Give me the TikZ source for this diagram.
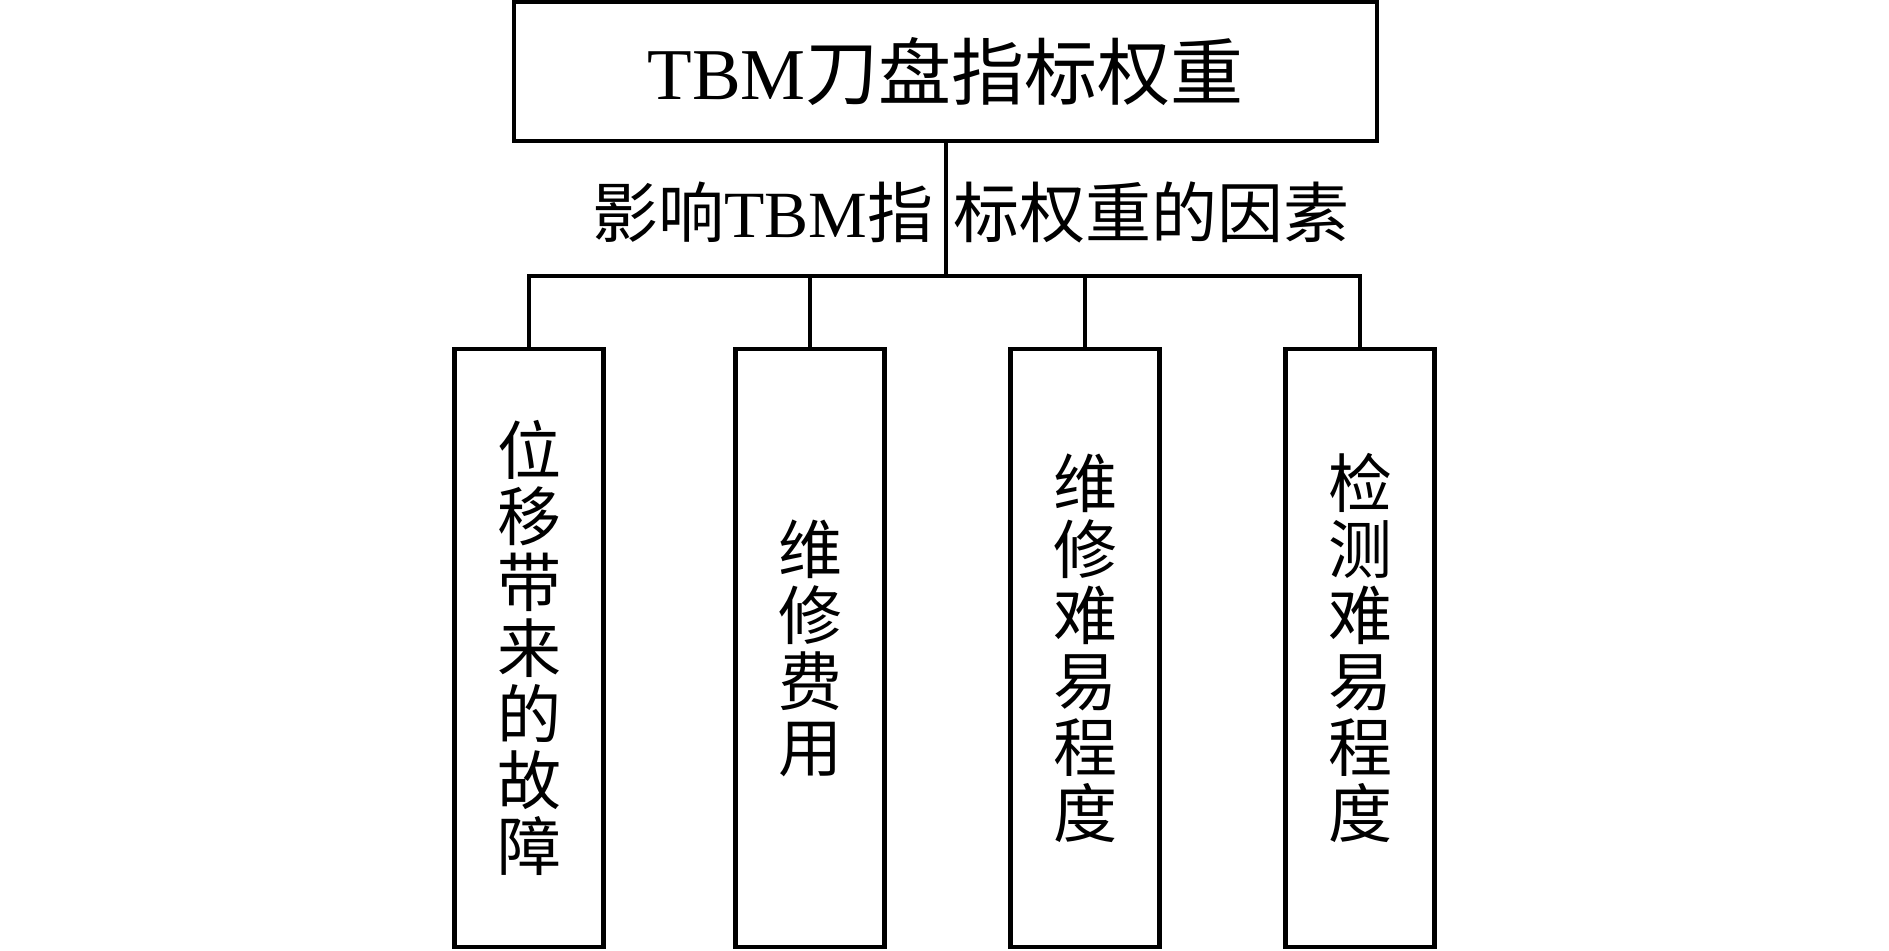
\documentclass[tikz,border=0pt]{standalone}
\usepackage{fontspec}
\setmainfont{Liberation Serif}
\newfontfamily\cjk{Noto Sans CJK SC}
\tikzset{
  box/.style={draw, line width=4.5pt, inner sep=0pt, align=center},
  leaf/.style={box, minimum width=149pt, minimum height=598pt,
    font=\cjk\fontsize{64}{66}\selectfont},
  conn/.style={line width=4pt},
}
\begin{document}
\begin{tikzpicture}[x=1pt,y=-1pt]
\useasboundingbox (0,0) rectangle (1889,950);
\node[box, minimum width=863pt, minimum height=139pt, font=\fontsize{73}{80}\selectfont]
  (top) at (945.5,71.5) {TBM{\cjk 刀盘指标权重}};
\node[inner sep=0pt, anchor=west, font=\fontsize{66}{70}\selectfont]
  (lab) at (592,212) {{\cjk 影响}TBM{\cjk 指}\hspace{20pt}{\cjk 标权重的因素}};
\node[leaf] (b1) at (529,648) {位\\移\\带\\来\\的\\故\\障};
\node[leaf] (b2) at (810,648) {维\\修\\费\\用};
\node[leaf] (b3) at (1085,648) {维\\修\\难\\易\\程\\度};
\node[leaf] (b4) at (1360,648) {检\\测\\难\\易\\程\\度};
\coordinate (bus) at (945.5,276);
\draw[conn] (top.south) -- (bus);
\draw[conn] (b1.north) -- (b1.north |- bus) -- (b4.north |- bus) -- (b4.north);
\draw[conn] (b2.north) -- (b2.north |- bus);
\draw[conn] (b3.north) -- (b3.north |- bus);
\end{tikzpicture}
\end{document}
